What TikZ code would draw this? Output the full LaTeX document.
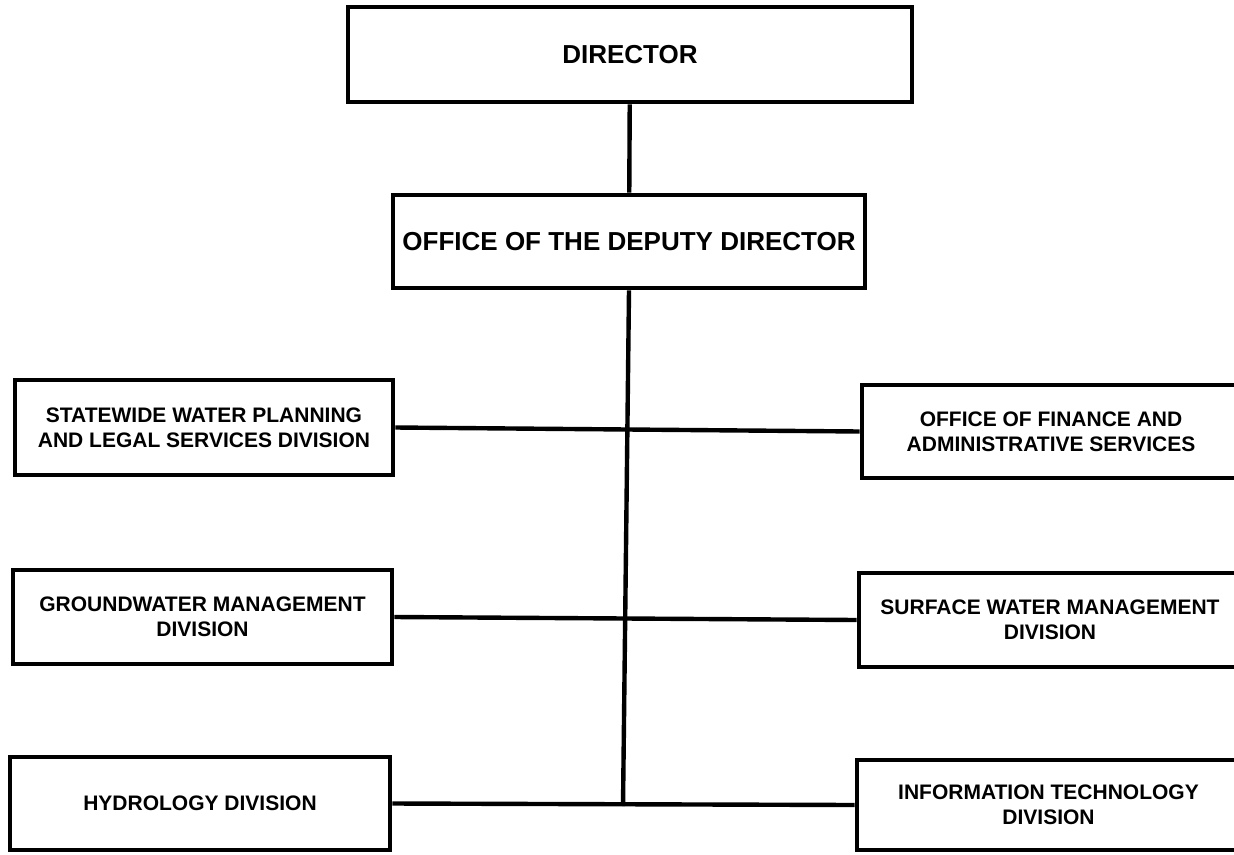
\documentclass[tikz,border=0pt]{standalone}
\usepackage{fontspec}
\setmainfont{Liberation Sans}
\usetikzlibrary{positioning}

\begin{document}
\begin{tikzpicture}[x=1pt, y=-1pt]
	\tikzset{box/.style={draw, line width=4.6pt, align=center, inner sep=0pt, font=\fontsize{21}{25}\selectfont\bfseries},
		topbox/.style={box, font=\fontsize{26}{30}\selectfont\bfseries},
		link/.style={line width=4.4pt}}

	\useasboundingbox (0,0) rectangle (1234,854);
	\clip (0,0) rectangle (1234,854);

	% top of the chart
	\node[topbox, minimum width=564pt, minimum height=95pt] (dir) at (630,54.5) {DIRECTOR};
	\node[topbox, minimum width=472pt, minimum height=93pt] (dep) at (629,241.5) {OFFICE OF THE DEPUTY DIRECTOR};

	% divisions, left side
	\node[box, minimum width=378pt, minimum height=95pt] (sw) at (204,427.5) {STATEWIDE WATER PLANNING\\AND LEGAL SERVICES DIVISION};
	\node[box, minimum width=379pt, minimum height=94pt] (gw) at (202.5,617) {GROUNDWATER MANAGEMENT\\DIVISION};
	\node[box, minimum width=380pt, minimum height=93pt] (hy) at (200,803.5) {HYDROLOGY DIVISION};

	% divisions, right side
	\node[box, minimum width=378pt, minimum height=93pt] (fin) at (1051,431.5) {OFFICE OF FINANCE AND\\ADMINISTRATIVE SERVICES};
	\node[box, minimum width=382pt, minimum height=94pt] (sf) at (1050,620) {SURFACE WATER MANAGEMENT\\DIVISION};
	\node[box, minimum width=383pt, minimum height=90pt] (it) at (1048.5,805) {INFORMATION TECHNOLOGY\\DIVISION};

	\coordinate (hub) at (623,806);

	\draw[link] (dir) -- (dep);
	\draw[link] (dep.south) -- (hub);
	\draw[link]
		(sw.east) -- (fin.west)
		(gw.east) -- (sf.west)
		(hy.east) -- (it.west);
\end{tikzpicture}
\end{document}
